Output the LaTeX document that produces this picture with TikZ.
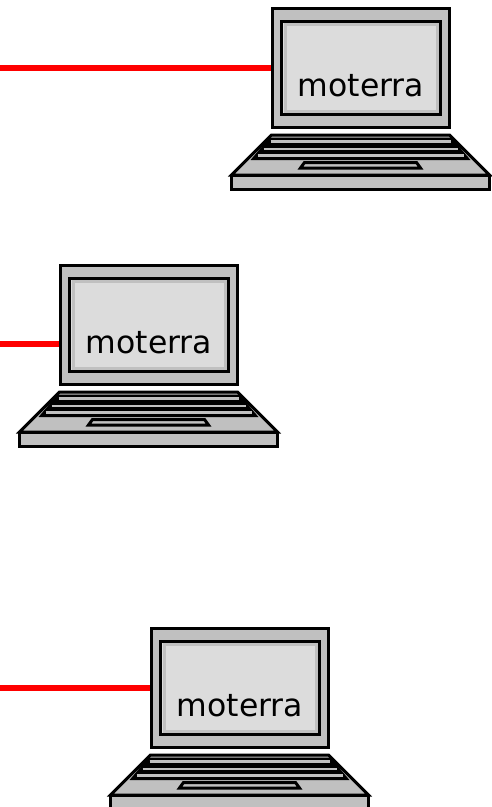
\documentclass[tikz,border=0pt]{standalone}
\usepackage{fontspec}
\setmainfont{DejaVu Sans}
\definecolor{bodygray}{HTML}{C0C0C0}
\definecolor{screengray}{HTML}{DCDCDC}
\tikzset{
	outline/.style={draw=black, line width=3pt, line join=miter},
	monitor/.style={outline, fill=bodygray, minimum width=177pt, minimum height=118.5pt, inner sep=0pt},
	screen/.style={outline, fill=screengray, minimum width=158.5pt, minimum height=93.5pt, inner sep=0pt},
	glass/.style={draw=bodygray, line width=3pt, minimum width=152pt, minimum height=87pt, inner sep=0pt},
	hostname/.style={font=\fontsize{31.5pt}{34pt}\selectfont, inner sep=0pt},
	keyrow/.style={draw=bodygray, line width=2.6pt},
	link/.style={draw=red, line width=6pt},
	laptop/.pic={
		\draw [outline, fill=bodygray] (-89,67) -- (89,67) -- (129,107) -- (-129,107) -- cycle;
		\fill [black] (-91,69.5) -- (91,69.5) -- (110,92) -- (-110,92) -- cycle;
		\draw [keyrow] (-90,73.5) -- (90,73.5);
		\draw [keyrow] (-97,81) -- (97,81);
		\draw [keyrow] (-103,87.5) -- (103,87.5);
		\draw [outline, fill=bodygray] (-56,94.5) -- (56,94.5) -- (60,100) -- (-60,100) -- cycle;
		\draw [outline, fill=bodygray] (-129,107) rectangle (129,121);
		\node (-monitor) [monitor] at (0,0.2) {};
		\node (-screen) [screen] at (0.5,0) {};
		\node (-glass) [glass] at (0.5,0) {};
		\node (-name) [hostname] at (0.5,18) {moterra};
	}
}
\begin{document}
\begin{tikzpicture}[x=1pt, y=-1pt]
	\useasboundingbox (0,0) rectangle (492,807);
	\pic (top) at (360.5,68) {laptop};
	\pic (middle) at (148.5,325) {laptop};
	\pic (bottom) at (239.5,688) {laptop};

	\coordinate (topend) at (0,68);
	\coordinate (middleend) at (0,344);
	\coordinate (bottomend) at (0,688);

	\draw [link] (topend) -- (topend -| top-monitor.west);
	\draw [link] (middleend) -- (middleend -| middle-monitor.west);
	\draw [link] (bottomend) -- (bottomend -| bottom-monitor.west);
\end{tikzpicture}
\end{document}
